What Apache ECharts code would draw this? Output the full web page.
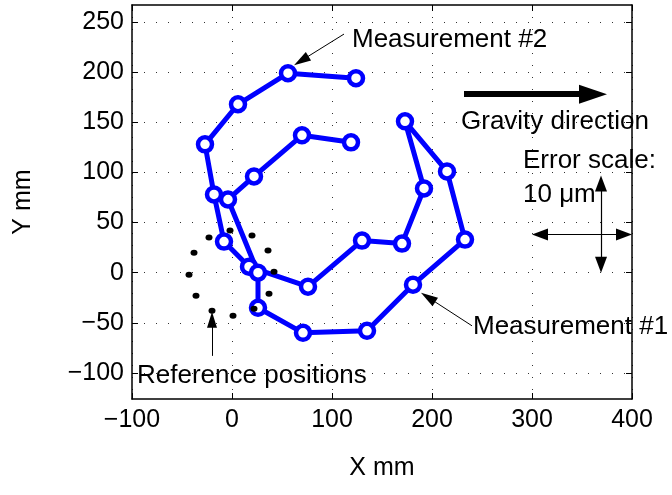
<!DOCTYPE html>
<html>
<head>
<meta charset="utf-8">
<script src="https://cdn.jsdelivr.net/npm/echarts@6/dist/echarts.min.js"></script>
<style>
html,body{margin:0;padding:0;background:#fff}
#chart{width:672px;height:495px}
</style>
</head>
<body>
<div id="chart"></div>
<script>
// measured spiral (both measurement runs, drawn as one connected path)
const pathX = [124, 56, 6, -27, -18, -8, 17, 76, 130, 170, 192, 173, 215, 233, 181, 135, 71, 26, 26, -4, 22, 70, 119]
const pathY = [194, 199, 168, 128, 78, 31, 6, -14, 32, 29, 84, 151, 101, 33, -12, -58, -60, -35, 0, 73, 96, 137, 130]
// reference positions (black dots)
const refX = [-23, -2, 20, 36, 42, 37, 22, 1, -20, -36, -43, -38]
const refY = [35, 42, 37, 22, 1, -21, -36, -43, -38, -23, -2, 20]
const xTicks = [-100, 0, 100, 200, 300, 400]
const yTicks = [-100, -50, 0, 50, 100, 150, 200, 250]

const FONT = 'Liberation Sans'
const tri = 'path://M5,0 L10,20 L0,20 Z'

const chart = echarts.init(document.getElementById('chart'))

// arrow helper: line from a to b, filled head at b (head centred half a length back)
function arrow(a, b, w, len, width, both){
    const dx = b[0]-a[0], dy = b[1]-a[1]
    const d = Math.sqrt(dx*dx+dy*dy)
    const ux = dx/d, uy = dy/d
    const end = [b[0]-ux*len/2, b[1]-uy*len/2]
    const start = both ? [a[0]+ux*len/2, a[1]+uy*len/2] : a
    return [
        {coord:start, symbol: both ? tri : 'none', symbolSize:[w,len], lineStyle:{width:width,color:'#000',type:'solid',opacity:1}},
        {coord:end, symbol:tri, symbolSize:[w,len]}
    ]
}

const notes = [
    [120, 232, 'Measurement #2'],
    [229, 150, 'Gravity direction'],
    [291, 112, 'Error scale:'],
    [291, 78, '10 μm'],
    [241, -54, 'Measurement #1'],
    [-95, -103, 'Reference positions']
]

const minus = v => String(v).replace('-', '\u2212')

chart.setOption({
    animation:false,
    textStyle:{fontFamily:FONT},
    grid:{left:132,right:40,top:5,bottom:96,outerBoundsMode:'none'},
    xAxis:[
        {
            type:'value', min:-100, max:400, interval:100, position:'bottom',
            name:'X mm', nameLocation:'middle', nameGap:57,
            nameTextStyle:{fontSize:25,color:'#000',fontFamily:FONT},
            axisLine:{onZero:false,lineStyle:{color:'#000',width:1.5}},
            axisTick:{show:true,inside:true,length:6,lineStyle:{color:'#000'}},
            axisLabel:{fontSize:25,color:'#000',margin:9,fontFamily:FONT,formatter:minus},
            splitLine:{show:true,lineStyle:{color:'#333',type:[1,11],width:1}}
        },
        {
            type:'value', min:-100, max:400, interval:100, position:'top',
            axisLine:{onZero:false,lineStyle:{color:'#000',width:1.5}},
            axisTick:{show:true,inside:true,length:6,lineStyle:{color:'#000'}},
            axisLabel:{show:false}, splitLine:{show:false}
        }
    ],
    yAxis:[
        {
            type:'value', min:-126, max:267, position:'left',
            name:'Y mm', nameLocation:'middle', nameGap:96,
            nameTextStyle:{fontSize:25,color:'#000',fontFamily:FONT},
            axisLine:{show:true,onZero:false,lineStyle:{color:'#000',width:1.5}},
            axisTick:{show:true,inside:true,length:6,customValues:yTicks,lineStyle:{color:'#000'}},
            axisLabel:{fontSize:25,color:'#000',margin:8,customValues:yTicks,fontFamily:FONT,formatter:minus},
            splitLine:{show:true,lineStyle:{color:'#333',type:[1,11],width:1}}
        },
        {
            type:'value', min:-126, max:267, position:'right',
            axisLine:{show:true,onZero:false,lineStyle:{color:'#000',width:1.5}},
            axisTick:{show:true,inside:true,length:6,customValues:yTicks,lineStyle:{color:'#000'}},
            axisLabel:{show:false}, splitLine:{show:false}
        }
    ],
    series:[
        {
            type:'line', name:'measurement',
            data:pathX.map((x,i)=>[x,pathY[i]]),
            lineStyle:{color:'#0000ff',width:5},
            symbol:'circle', symbolSize:14, showAllSymbol:true,
            itemStyle:{color:'#fff',borderColor:'#0000ff',borderWidth:4.5},
            z:2
        },
        {
            type:'scatter', name:'reference',
            data:refX.map((x,i)=>[x,refY[i]]),
            symbol:'circle', symbolSize:[7,6],
            itemStyle:{color:'#000',opacity:1},
            z:3,
            markLine:{
                silent:true, animation:false,
                label:{show:false},
                data:[
                    arrow([112,238],[62,207],10,17,1),
                    arrow([240,-53],[189,-20],10,17,1),
                    arrow([-20,-83],[-20,-39],10,16,1),
                    arrow([232,178],[375,178],19,28,6),
                    arrow([300,38],[400,38],12,16,1.2,true),
                    arrow([369,0],[369,97],12,16,1.2,true)
                ]
            }
        },
        {
            type:'scatter', name:'notes', silent:true,
            data:notes, symbolSize:0, z:5,
            itemStyle:{opacity:1},
            label:{show:true, position:[0,0], align:'left', verticalAlign:'middle',
                fontSize:26, color:'#000', fontFamily:FONT,
                formatter:p=>p.data[2]}
        }
    ]
})
</script>
</body>
</html>
